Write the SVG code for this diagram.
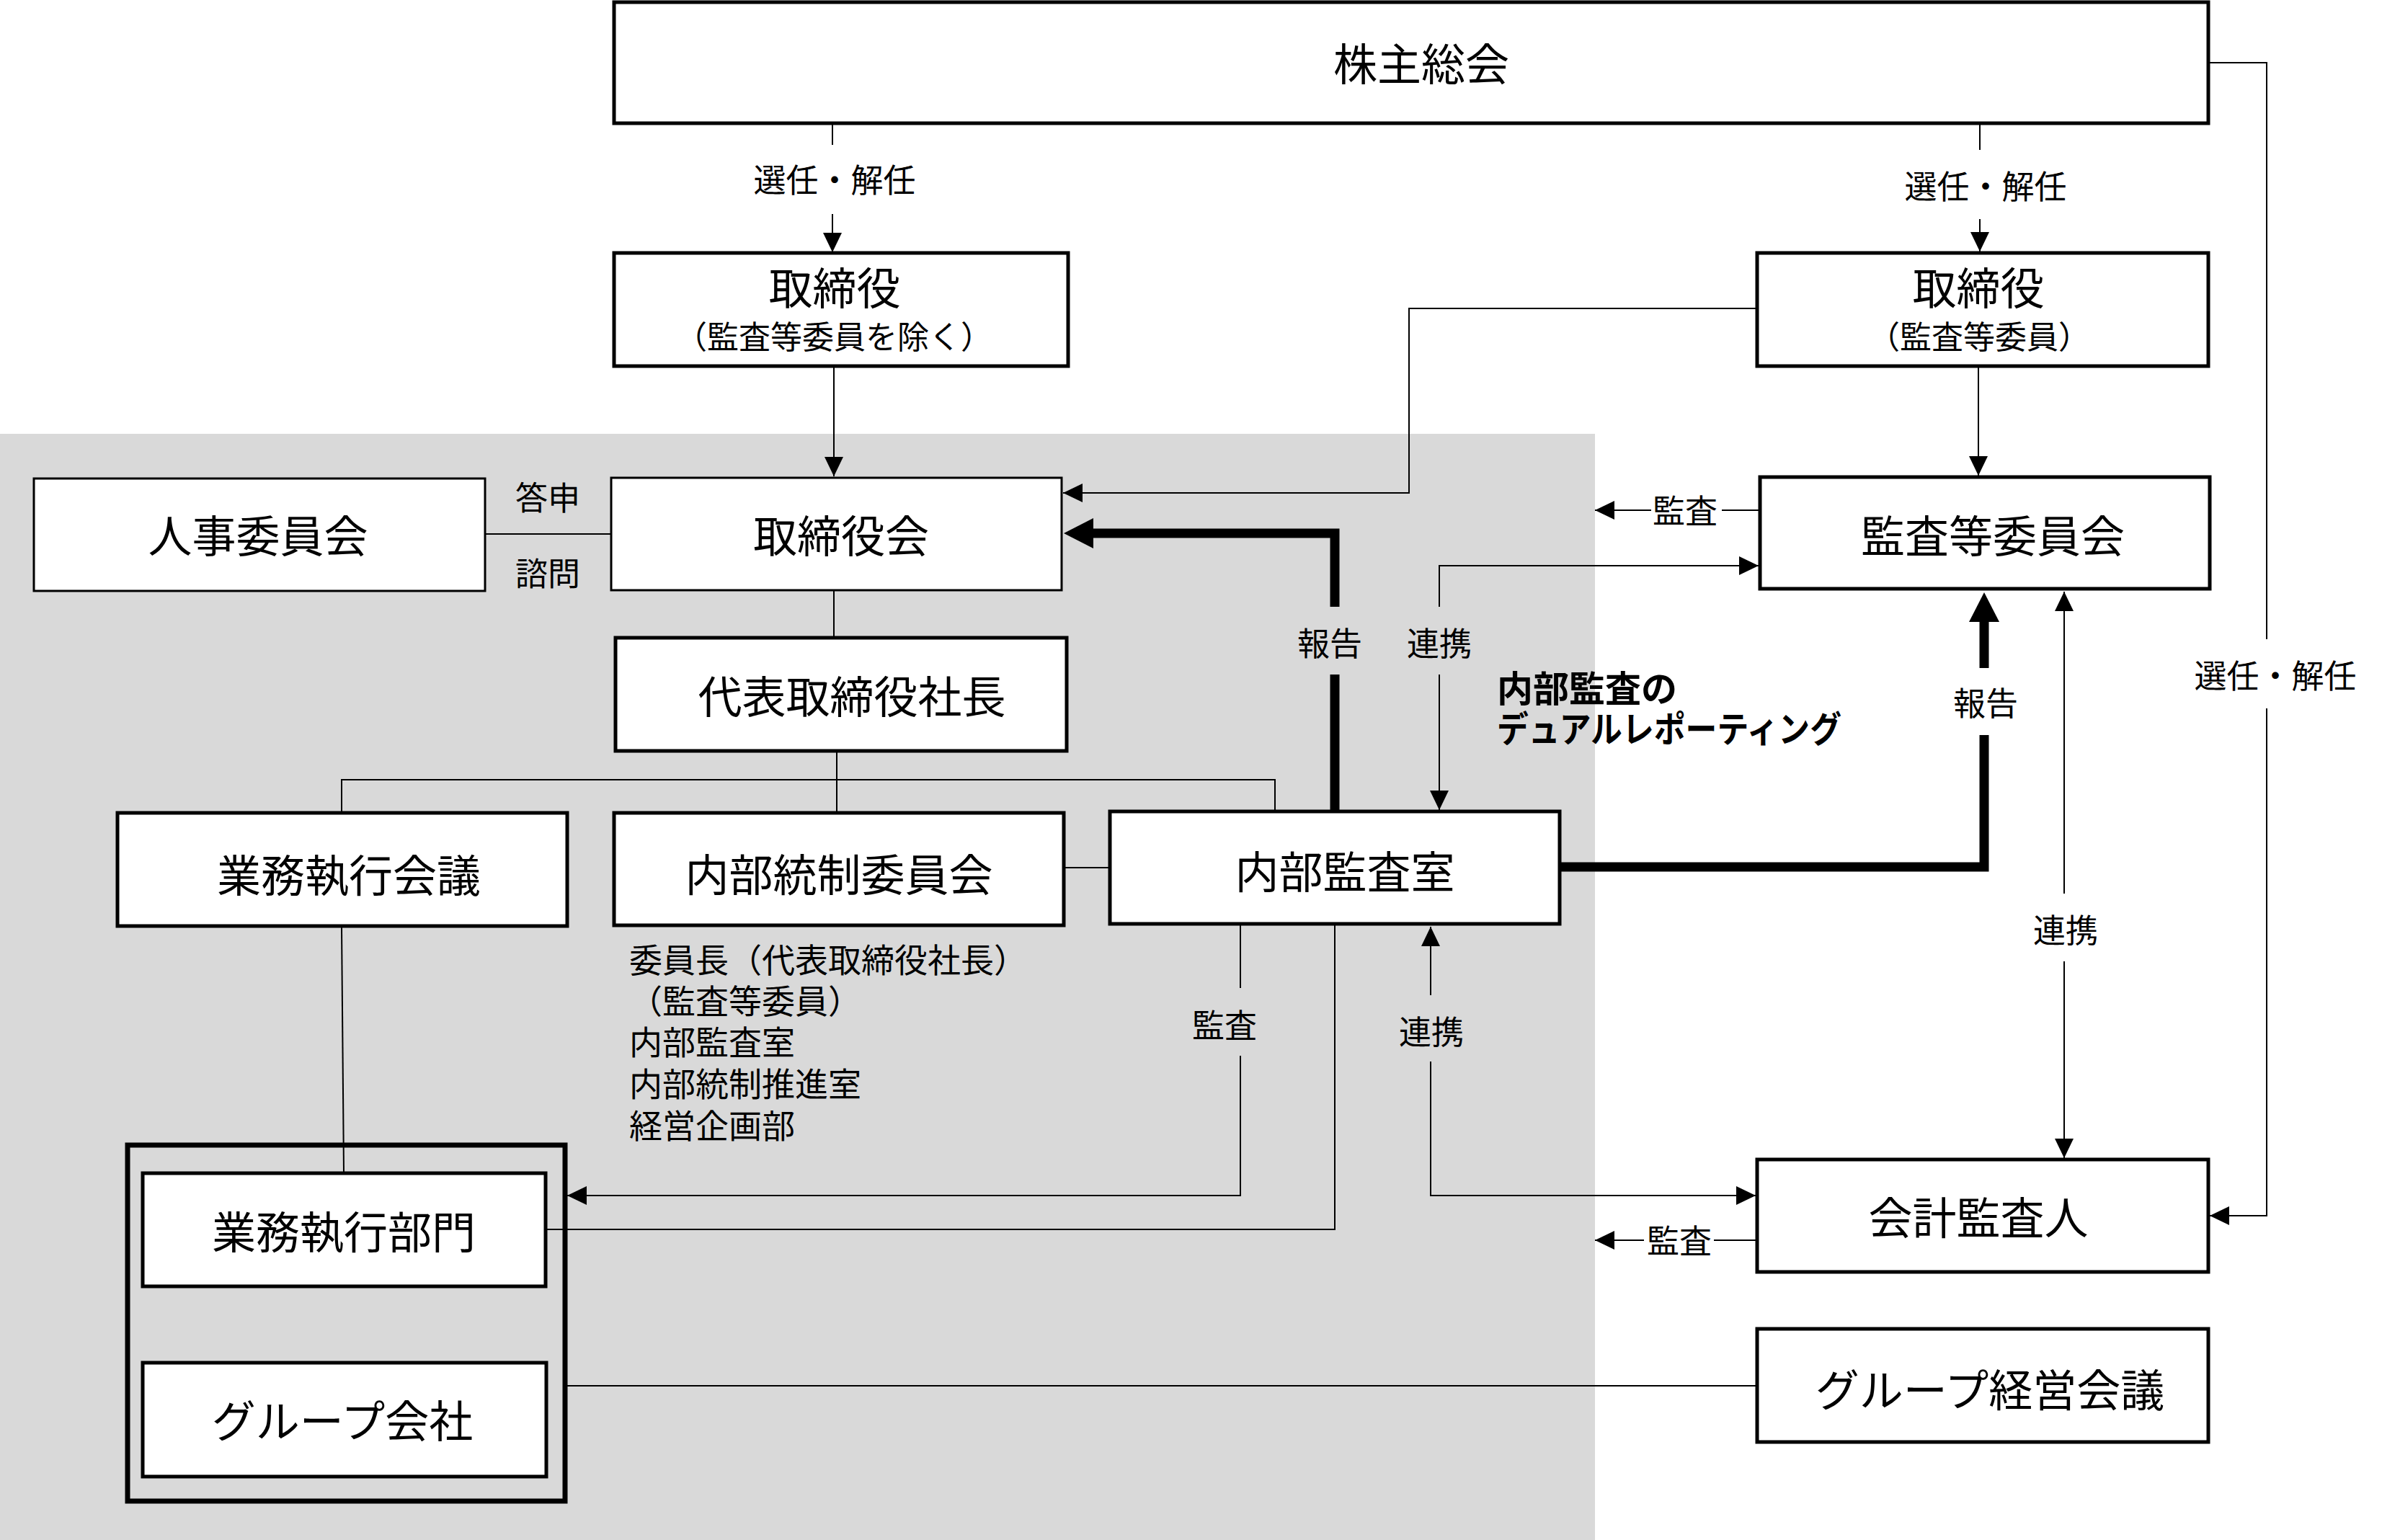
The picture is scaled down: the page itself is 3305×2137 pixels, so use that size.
<svg xmlns="http://www.w3.org/2000/svg" width="3305" height="2137" viewBox="0 0 3305 2137">
<style>
text{font-family:"Noto Sans CJK JP","Noto Sans CJK SC",sans-serif;fill:#000;dominant-baseline:central;text-anchor:middle}
.t{font-size:61px}
.s{font-size:44px}
.l{font-size:45px}
.m{font-size:46px;text-anchor:start}
.b{font-size:50px;font-weight:bold;text-anchor:start}
.bx{fill:#fff;stroke:#000;stroke-width:5}
.bt{fill:#fff;stroke:#000;stroke-width:3}
.c{fill:none;stroke:#000;stroke-width:2}
.k{fill:none;stroke:#000;stroke-width:13}
</style>
<defs>
<marker id="a" markerUnits="userSpaceOnUse" markerWidth="28" markerHeight="28" viewBox="0 0 28 28" refX="27" refY="14" orient="auto"><path d="M0,1 L27,14 L0,27 Z" fill="#000"/></marker>
<marker id="ak" markerUnits="userSpaceOnUse" markerWidth="44" markerHeight="44" viewBox="0 0 44 44" refX="2" refY="22" orient="auto"><path d="M0,1 L41,22 L0,43 Z" fill="#000"/></marker>
</defs>
<rect x="0" y="0" width="3305" height="2137" fill="#fff"/>
<rect x="0" y="602" width="2213" height="1535" fill="#d9d9d9"/>

<g id="connectors">
<path class="c" d="M1155,171 V201"/>
<path class="c" d="M1155,297 V350" marker-end="url(#a)"/>
<path class="c" d="M2747,171 V208"/>
<path class="c" d="M2747,304 V349" marker-end="url(#a)"/>
<path class="c" d="M3064,87 H3145 V887"/>
<path class="c" d="M3145,983 V1687 H3066" marker-end="url(#a)"/>
<path class="c" d="M1157,508 V661" marker-end="url(#a)"/>
<path class="c" d="M2438,428 H1955 V684 H1475" marker-end="url(#a)"/>
<path class="c" d="M2745,508 V660" marker-end="url(#a)"/>
<path class="c" d="M673,741 H848"/>
<path class="c" d="M1157,819 V885"/>
<path class="c" d="M1161,1042 V1128"/>
<path class="c" d="M474,1128 V1082 H1769 V1126"/>
<path class="c" d="M1476,1204 H1540"/>
<path class="c" d="M474,1285 L477,1628"/>
<path class="k" d="M1852,1126 V936"/>
<path class="k" d="M1852,842 V740 H1515" marker-end="url(#ak)"/>
<path class="c" d="M1997,936 V1124" marker-end="url(#a)"/>
<path class="c" d="M1997,842 V785 H2440" marker-end="url(#a)"/>
<path class="c" d="M2442,708 H2389"/>
<path class="c" d="M2291,708 H2213" marker-end="url(#a)"/>
<path class="k" d="M2164,1203 H2753 V1020"/>
<path class="k" d="M2753,927 V861" marker-end="url(#ak)"/>
<path class="c" d="M2864,1240 V821" marker-end="url(#a)"/>
<path class="c" d="M2864,1334 V1607" marker-end="url(#a)"/>
<path class="c" d="M1721,1282 V1371"/>
<path class="c" d="M1721,1465 V1659 H787" marker-end="url(#a)"/>
<path class="c" d="M1985,1381 V1286" marker-end="url(#a)"/>
<path class="c" d="M1985,1473 V1659 H2436" marker-end="url(#a)"/>
<path class="c" d="M758,1706 H1852 V1282"/>
<path class="c" d="M2438,1721 H2378"/>
<path class="c" d="M2281,1721 H2213" marker-end="url(#a)"/>
<path class="c" d="M785,1923 H2438"/>
<text class="l" x="1158" y="247">選任・解任</text>
<text class="l" x="2755" y="256">選任・解任</text>
<text class="l" x="3157" y="935">選任・解任</text>
<text class="l" x="760" y="688">答申</text>
<text class="l" x="760" y="793">諮問</text>
<text class="l" x="2338" y="706">監査</text>
<text class="l" x="1845" y="890">報告</text>
<text class="l" x="1997" y="890">連携</text>
<text class="l" x="2755" y="973">報告</text>
<text class="l" x="2866" y="1288">連携</text>
<text class="l" x="1699" y="1420">監査</text>
<text class="l" x="1986" y="1429">連携</text>
<text class="l" x="2330" y="1719">監査</text>
<text class="b" x="2077" y="952">内部監査の<tspan x="2077" y="1008" textLength="478" lengthAdjust="spacingAndGlyphs">デュアルレポーティング</tspan></text>
</g>

<g id="n-kabunushi"><rect class="bx" x="852" y="3" width="2212" height="168"/><text class="t" x="1972" y="85">株主総会</text></g>
<g id="n-torishimariyaku1"><rect class="bx" x="852" y="351" width="630" height="157"/><text class="t" x="1158" y="396">取締役</text><text class="s" x="1157" y="465">（監査等委員を除く）</text></g>
<g id="n-torishimariyaku2"><rect class="bx" x="2438" y="351" width="626" height="157"/><text class="t" x="2745" y="396">取締役</text><text class="s" x="2746" y="465">（監査等委員）</text></g>
<g id="n-jinji"><rect class="bt" x="47" y="664" width="626" height="156"/><text class="t" x="358" y="740">人事委員会</text></g>
<g id="n-torishimariyakukai"><rect class="bt" x="848" y="663" width="625" height="156"/><text class="t" x="1167" y="740">取締役会</text></g>
<g id="n-kansatou"><rect class="bx" x="2442" y="662" width="624" height="155"/><text class="t" x="2765" y="740">監査等委員会</text></g>
<g id="n-shacho"><rect class="bx" x="854" y="885" width="626" height="157"/><text class="t" x="1182" y="963">代表取締役社長</text></g>
<g id="n-gyomukaigi"><rect class="bx" x="163" y="1128" width="624" height="157"/><text class="t" x="484" y="1211">業務執行会議</text></g>
<g id="n-naibutousei"><rect class="bx" x="852" y="1128" width="624" height="156"/><text class="t" x="1164" y="1210">内部統制委員会</text>
<text class="m" x="873" y="1329">委員長（代表取締役社長）<tspan x="873" y="1386">（監査等委員）</tspan><tspan x="873" y="1443">内部監査室</tspan><tspan x="873" y="1501">内部統制推進室</tspan><tspan x="873" y="1559">経営企画部</tspan></text></g>
<g id="n-naibukansa"><rect class="bx" x="1540" y="1126" width="624" height="156"/><text class="t" x="1866" y="1206">内部監査室</text></g>
<g id="n-kaikei"><rect class="bx" x="2438" y="1609" width="626" height="156"/><text class="t" x="2745" y="1686">会計監査人</text></g>
<g id="n-groupkeiei"><rect class="bx" x="2438" y="1844" width="626" height="157"/><text class="t" x="2761" y="1925">グループ経営会議</text></g>
<g id="n-container"><rect x="177" y="1589" width="607" height="494" fill="none" stroke="#000" stroke-width="7"/></g>
<g id="n-gyomubumon"><rect class="bx" x="198" y="1628" width="559" height="157"/><text class="t" x="477" y="1706">業務執行部門</text></g>
<g id="n-group"><rect class="bx" x="198" y="1891" width="560" height="158"/><text class="t" x="475" y="1968">グループ会社</text></g>
</svg>
